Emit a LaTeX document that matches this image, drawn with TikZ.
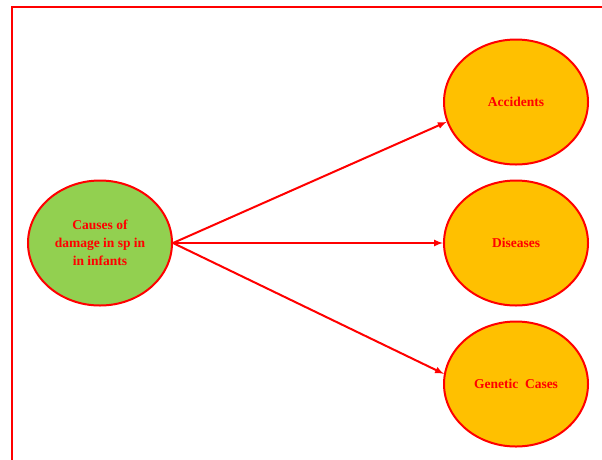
\documentclass[tikz,border=0pt]{standalone}
\usepackage{fontspec}
\setmainfont{Liberation Serif}
\usepackage{xcolor}
\usepackage{tikz}
\usetikzlibrary{shapes, arrows, positioning}

\definecolor{causegreen}{HTML}{92D050}
\definecolor{effectorange}{HTML}{FFC000}

\tikzset{
	bubble/.style={ellipse, draw=red, line width=2pt, minimum width=144pt, minimum height=125pt, inner sep=0pt, align=center, text=red, font=\fontsize{13.5}{18}\selectfont\bfseries},
	link/.style={-latex, draw=red, line width=2pt}
}

\begin{document}
\begin{tikzpicture}[x=1pt, y=-1pt]
		\useasboundingbox (0,0) rectangle (602,459);
		\draw [red, line width=2.2pt] (12,480) -- (12,7) -- (620,7);
		
		\node (cause) [bubble, fill=causegreen] at (100,243) {Causes of\\damage in sp in\\in infants};
		
		\node (accidents) [bubble, fill=effectorange] at (516,102) {Accidents};
		\node (diseases) [bubble, fill=effectorange] at (516,243) {Diseases};
		\node (genetic) [bubble, fill=effectorange] at (516,384) {Genetic\ \ Cases};
		
		\draw [link] (cause.east) -- (accidents.196);
		\draw [link] (cause.east) -- (diseases.west);
		\draw [link] (cause.east) -- (genetic.172);
		
	\end{tikzpicture}
\end{document}
